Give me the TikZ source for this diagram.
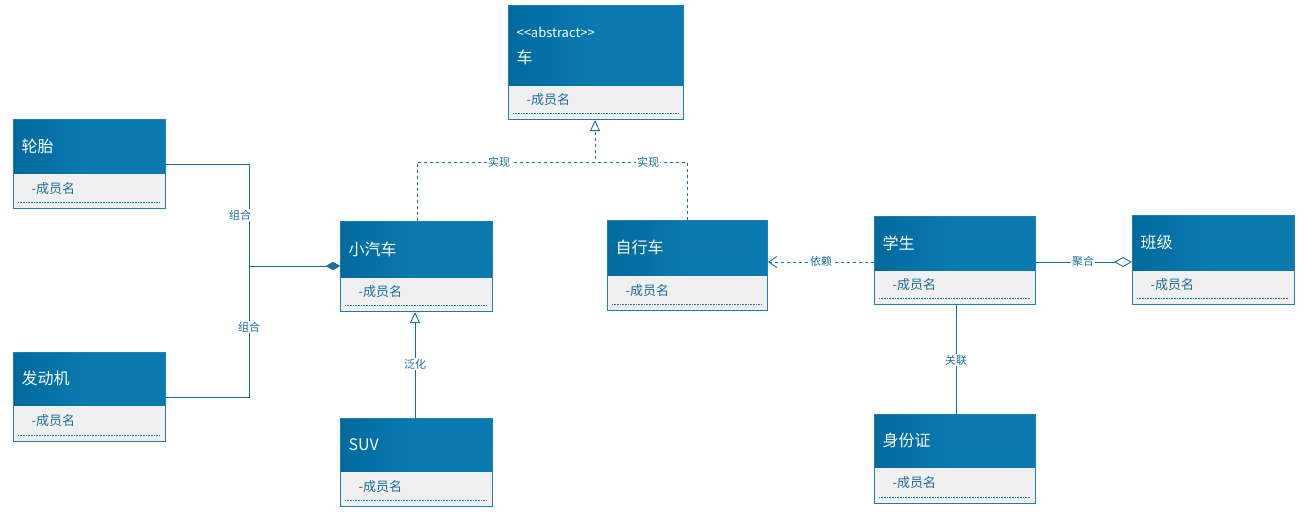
\documentclass[tikz,border=0pt]{standalone}
\usepackage{fontspec}
\setmainfont{Noto Sans CJK SC}
\usetikzlibrary{arrows.meta,shapes.geometric}
\definecolor{hdr}{HTML}{0A7AB0}
\definecolor{hdrd}{HTML}{006A9E}
\definecolor{bd}{HTML}{1F7FB0}
\definecolor{bodyc}{HTML}{F0F0F0}
\definecolor{ln}{HTML}{1A6E9C}
\tikzset{
 conn/.style={draw=ln, line width=0.9pt},
 lab/.style={fill=white, inner sep=1pt, text=ln, font=\fontsize{11}{12}\selectfont},
 tri/.style={-{Triangle[open,length=11pt,width=10pt,fill=white]}},
}
% #1 name, #2 l, #3 t, #4 r, #5 header bottom, #6 bottom, #7 title
\newcommand\umlcls[7]{%
 \node[draw=bd, line width=1pt, fill=bodyc, anchor=north west, minimum width=#4pt-#2pt, minimum height=#6pt-#3pt, inner sep=0pt] (#1) at (#2,#3) {};
 \shade[left color=hdrd, right color=hdr, middle color=hdr] (#2,#3) rectangle (#4,#5);
 \draw[bd, line width=1pt] (#2,#3) rectangle (#4,#6);
 \draw[bd, densely dotted, line width=0.6pt] (#2+5,#6-6) -- (#4-5,#6-6);
 \node[anchor=west, text=ln, font=\fontsize{13}{14}\selectfont] (#1m) at (#2+15,{(#5+#6)/2-2}) {-成员名};
 \node[anchor=west, text=white, font=\fontsize{16}{18}\selectfont] (#1t) at (#2+5,{(#3+#5)/2}) {#7};
}
\begin{document}
\begin{tikzpicture}[x=1pt,y=-1pt]
\useasboundingbox (0,0) rectangle (1309,527);
\umlcls{car}{508}{6}{683}{85}{119}{}
\node[anchor=west, text=white, font=\fontsize{13}{14}\selectfont] (abs) at (513,32) {<{}<abstract>{}>};
\node[anchor=west, text=white, font=\fontsize{16}{18}\selectfont] (cart) at (513,57) {车};
\umlcls{tyre}{13}{119}{165}{173}{208}{轮胎}
\umlcls{eng}{13}{352}{165}{405}{441}{发动机}
\umlcls{auto}{340}{221}{492}{277}{311}{小汽车}
\umlcls{suv}{340}{418}{492}{471}{506}{SUV}
\umlcls{bike}{607}{220}{767}{275}{310}{自行车}
\umlcls{stu}{874}{216}{1035}{270}{304}{学生}
\umlcls{cls}{1132}{215}{1294}{270}{304}{班级}
\umlcls{idc}{874}{414}{1035}{467}{503}{身份证}
% composition
\draw[conn, -{Diamond[length=14pt,width=8pt,fill=ln]}] (tyre.north east |- 0,164) -- (249,164) -- (249,266) -- (auto.west |- 0,266);
\draw[conn, -{Diamond[length=14pt,width=8pt,fill=ln]}] (eng.north east |- 0,397) -- (249,397) -- (249,266) -- (auto.west |- 0,266);
\node[lab] (l1) at (240,215) {组合};
\node[lab] (l2) at (249,327) {组合};
% realization
\draw[conn, dashed, tri] (auto.north -| 417,0) -- (417,162) -- (595,162) -- (car.south -| 595,0);
\draw[conn, dashed] (bike.north -| 687,0) -- (687,162) -- (595,162);
\node[lab] (l3) at (499,162) {实现};
\node[lab] (l4) at (648,162) {实现};
% generalization
\draw[conn, tri] (suv.north -| 415,0) -- (auto.south -| 415,0);
\node[lab] (l5) at (415,364) {泛化};
% dependency
\draw[conn, dashed, -{Straight Barb[length=8pt,width=11pt]}] (stu.west |- 0,262) -- (bike.east |- 0,262);
\node[lab] (l6) at (821,261) {依赖};
% aggregation
\draw[conn, -{Diamond[open,length=18pt,width=10pt,fill=white]}] (stu.east |- 0,262) -- (cls.west |- 0,262);
\node[lab] (l7) at (1083,261) {聚合};
% association
\draw[conn] (stu.south -| 956,0) -- (idc.north -| 956,0);
\node[lab] (l8) at (956,360) {关联};
\end{tikzpicture}
\end{document}
